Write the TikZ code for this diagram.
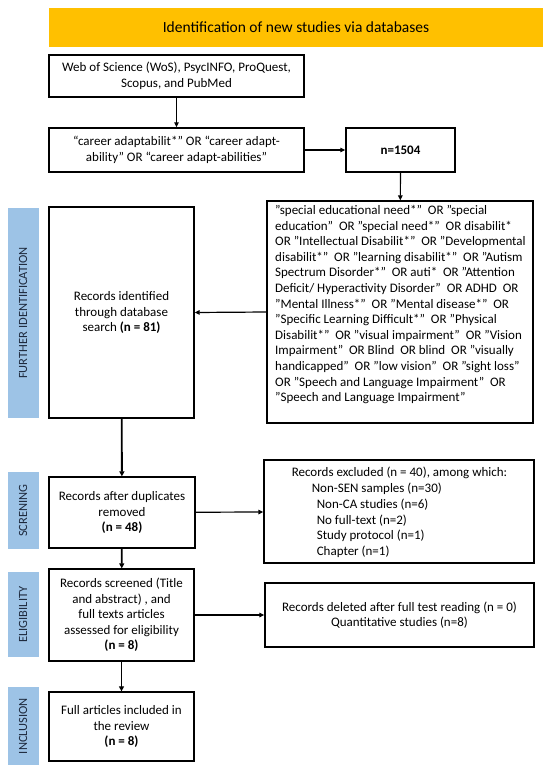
\documentclass[tikz,border=0pt]{standalone}
\usepackage{fontspec}
\setmainfont{Carlito}
\usetikzlibrary{arrows.meta}
\definecolor{banner}{RGB}{255,192,0}
\definecolor{sidebar}{RGB}{157,195,230}
\definecolor{sidetext}{RGB}{30,42,62}
\tikzset{
  box/.style={draw=black, line width=1.3pt, fill=white, inner sep=0pt, align=center,
    font=\fontsize{13}{15.6}\selectfont},
  phase/.style={fill=sidebar, inner sep=0pt, text=sidetext, rotate=90,
    font=\fontsize{12.5}{14}\selectfont},
  conn/.style={line width=1.2pt, -{Triangle[length=5pt,width=4.5pt]}},
  thickconn/.style={line width=1.8pt, -{Triangle[length=5pt,width=5pt]}}
}
\begin{document}
\begin{tikzpicture}[x=1pt,y=-1pt]
\useasboundingbox[fill=white] (0,0) rectangle (550,771);

% banner
\node[fill=banner, minimum width=494pt, minimum height=39pt, inner sep=0pt,
  font=\fontsize{15.5}{18}\selectfont] (title) at (296,27.5) {Identification of new studies via databases};

% phase side bars
\node[phase, minimum width=210pt, minimum height=31pt] (pfur) at (23,313) {FURTHER IDENTIFICATION};
\node[phase, minimum width=77pt, minimum height=31pt] (pscr) at (23,510.5) {SCRENING};
\node[phase, minimum width=85pt, minimum height=31pt] (pel) at (23,614.5) {ELIGIBILITY};
\node[phase, minimum width=78pt, minimum height=31pt] (pinc) at (23,726) {INCLUSION};

% boxes
\node[box, minimum width=255pt, minimum height=42pt] (db) at (176.5,76)
  {Web of Science (WoS), PsycINFO, ProQuest,\\Scopus, and PubMed};
\node[box, minimum width=255pt, minimum height=44pt] (ca) at (176.5,150)
  {“career adaptabilit*” OR “career adapt-\\ability” OR “career adapt-abilities”};
\node[box, minimum width=109pt, minimum height=44pt] (n1504) at (400.5,150)
  {\textbf{n=1504}};
\node[box, minimum width=266pt, minimum height=222pt] (query) at (400,312) {};
\node[anchor=north west, inner sep=0pt, align=left, font=\fontsize{13}{15.6}\selectfont] (querytext) at (275,205)
  {"special educational need*"~ OR "special\\
education"~ OR "special need*"~ OR disabilit*\\
OR "Intellectual Disabilit*"~ OR "Developmental\\
disabilit*"~ OR "learning disabilit*"~ OR "Autism\\
Spectrum Disorder*"~ OR auti*~ OR "Attention\\
Deficit/ Hyperactivity Disorder"~ OR ADHD~ OR\\
"Mental Illness*"~ OR "Mental disease*"~ OR\\
"Specific Learning Difficult*"~ OR "Physical\\
Disabilit*"~ OR "visual impairment"~ OR "Vision\\
Impairment"~ OR Blind~ OR blind~ OR "visually\\
handicapped"~ OR "low vision"~ OR "sight loss"\\
OR "Speech and Language Impairment"~ OR\\
"Speech and Language Impairment"};
\node[box, minimum width=145pt, minimum height=211pt] (rec) at (121.5,312.5)
  {Records identified\\through database\\search \textbf{(n = 81)}};
\node[box, minimum width=146pt, minimum height=71pt] (scr) at (122,512.5)
  {Records after duplicates\\removed\\\textbf{(n = 48)}};
\node[box, minimum width=270pt, minimum height=103pt] (excl) at (399,511.5) {};
\node[inner sep=0pt, align=left, font=\fontsize{13}{15.7}\selectfont] (excltext) at (399.5,512.5)
  {Records excluded (n = 40), among which:\\
\hspace*{20pt}Non-SEN samples (n=30)\\
\hspace*{25pt}Non-CA studies (n=6)\\
\hspace*{25pt}No full-text (n=2)\\
\hspace*{25pt}Study protocol (n=1)\\
\hspace*{25pt}Chapter (n=1)};
\node[box, minimum width=145pt, minimum height=92pt] (elig) at (121.5,615)
  {Records screened (Title\\and abstract) , and\\full texts articles\\assessed for eligibility\\\textbf{(n = 8)}};
\node[box, minimum width=269pt, minimum height=64pt] (del) at (399.5,615)
  {Records deleted after full test reading (n = 0)\\Quantitative studies (n=8)};
\node[box, minimum width=145pt, minimum height=69pt] (inc) at (121.5,726.5)
  {Full articles included in\\the review\\\textbf{(n = 8)}};

% connectors
\draw[conn] (db) -- (ca);
\draw[conn] (ca) -- (n1504);
\draw[conn] (n1504) -- (query);
\draw[conn] (query.west) -- (rec.east);
\draw[thickconn] (rec) -- (scr);
\draw[conn] (scr) -- (excl);
\draw[thickconn] (scr) -- (elig);
\draw[conn] (elig) -- (del);
\draw[thickconn] (elig) -- (inc);
\end{tikzpicture}
\end{document}
